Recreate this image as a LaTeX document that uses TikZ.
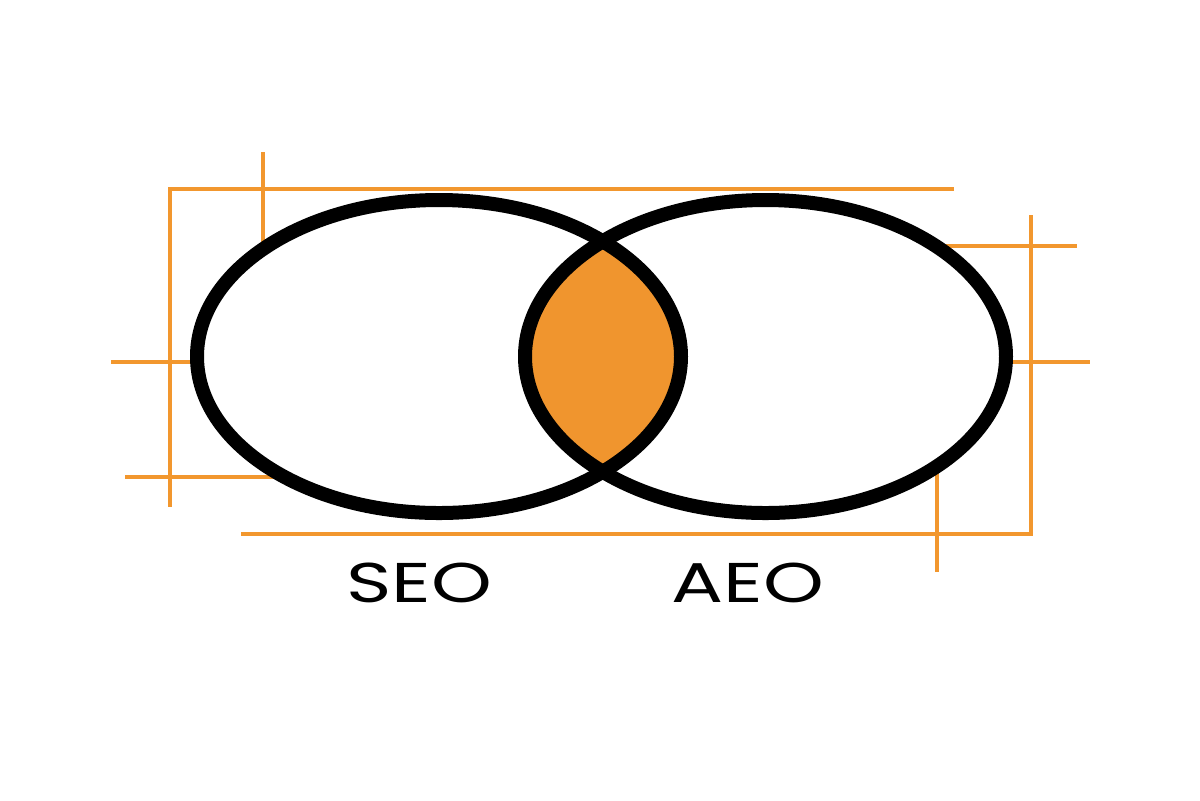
\documentclass[tikz,border=0pt]{standalone}
\usepackage{fontspec}
\setmainfont{Poppins}
\definecolor{guide}{HTML}{F2972E}
\definecolor{lens}{HTML}{F0952E}
\newcommand{\widelbl}[1]{\scalebox{1.38}[1]{#1}}
\tikzset{
  guideline/.style={draw=guide, line width=2pt},
  ring/.style={draw=black, line width=7pt},
  lbl/.style={font=\fontsize{28}{28}\selectfont, inner sep=0pt}
}
\begin{document}
\begin{tikzpicture}[x=0.5pt,y=-0.5pt, line join=miter]
\def\seo{(439,356.5) ellipse [x radius=242, y radius=156.5]}
\def\aeo{(765.5,356.5) ellipse [x radius=240.5, y radius=156.5]}
\useasboundingbox (0,0) rectangle (1200,800);
% guide frame behind the rings
\draw[guideline] (954,189)--(170,189)--(170,507);
\draw[guideline] (241,534)--(1031,534)--(1031,215);
\draw[guideline] (263,152)--(263,245);
\draw[guideline] (111,362)--(200,362);
\draw[guideline] (125,477)--(285,477);
\draw[guideline] (940,246)--(1077,246);
\draw[guideline] (1005,362)--(1090,362);
\draw[guideline] (937,465)--(937,572);
% rings
\fill[white] \seo;
\fill[white] \aeo;
\begin{scope}
\clip \seo;
\fill[lens] \aeo;
\end{scope}
\draw[ring] \seo;
\draw[ring] \aeo;
% labels
\node[lbl] (seo) at (419,583) {\widelbl{SEO}};
\node[lbl] (aeo) at (748,583) {\widelbl{AEO}};
\end{tikzpicture}
\end{document}
